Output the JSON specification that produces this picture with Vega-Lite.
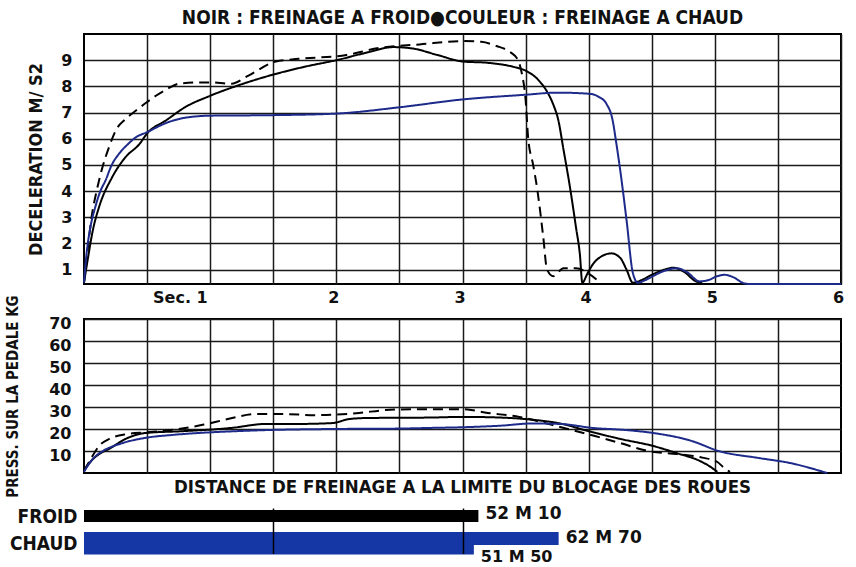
{
  "$schema": "https://vega.github.io/schema/vega-lite/v6.json",
  "background": "white",
  "padding": {"left": 4, "top": 8, "right": 5, "bottom": 0},
  "bounds": "flush",
  "spacing": 35,
  "config": {
    "view": {"stroke": "#000", "strokeWidth": 2},
    "axis": {
      "domain": false, "ticks": false,
      "gridColor": "#1a1a1a", "gridWidth": 1.5, "gridOpacity": 1,
      "labelFont": "DejaVu Sans", "labelFontWeight": "bold", "labelFontSize": 16, "labelColor": "#111",
      "titleFont": "DejaVu Sans Condensed", "titleFontWeight": "bold", "titleColor": "#111"
    },
    "title": {"font": "DejaVu Sans Condensed", "fontWeight": "bold", "fontSize": 19, "color": "#111", "anchor": "middle"}
  },
  "datasets": {
    "decel": [
      {"essai": "froid", "t": 0, "decel": 0.5}, {"essai": "froid", "t": 0.03, "decel": 1.4}, {"essai": "froid", "t": 0.07, "decel": 2.5}, {"essai": "froid", "t": 0.12, "decel": 3.4}, {"essai": "froid", "t": 0.22, "decel": 4.5}, {"essai": "froid", "t": 0.33, "decel": 5.3}, {"essai": "froid", "t": 0.44, "decel": 5.8}, {"essai": "froid", "t": 0.5, "decel": 6.2}, {"essai": "froid", "t": 0.65, "decel": 6.7}, {"essai": "froid", "t": 0.8, "decel": 7.2}, {"essai": "froid", "t": 1.0, "decel": 7.64}, {"essai": "froid", "t": 1.2, "decel": 8.0}, {"essai": "froid", "t": 1.5, "decel": 8.45}, {"essai": "froid", "t": 1.75, "decel": 8.75}, {"essai": "froid", "t": 2.0, "decel": 9.0}, {"essai": "froid", "t": 2.25, "decel": 9.3}, {"essai": "froid", "t": 2.45, "decel": 9.5}, {"essai": "froid", "t": 2.6, "decel": 9.45}, {"essai": "froid", "t": 2.8, "decel": 9.2}, {"essai": "froid", "t": 3.0, "decel": 8.95}, {"essai": "froid", "t": 3.2, "decel": 8.9}, {"essai": "froid", "t": 3.4, "decel": 8.75}, {"essai": "froid", "t": 3.5, "decel": 8.6}, {"essai": "froid", "t": 3.6, "decel": 8.25}, {"essai": "froid", "t": 3.67, "decel": 7.8}, {"essai": "froid", "t": 3.72, "decel": 7.3}, {"essai": "froid", "t": 3.76, "decel": 6.7}, {"essai": "froid", "t": 3.8, "decel": 5.6}, {"essai": "froid", "t": 3.85, "decel": 4.2}, {"essai": "froid", "t": 3.9, "decel": 2.6}, {"essai": "froid", "t": 3.93, "decel": 1.6}, {"essai": "froid", "t": 3.95, "decel": 0.5}, {"essai": "froid", "t": 3.99, "decel": 0.85}, {"essai": "froid", "t": 4.04, "decel": 1.25}, {"essai": "froid", "t": 4.1, "decel": 1.5}, {"essai": "froid", "t": 4.18, "decel": 1.62}, {"essai": "froid", "t": 4.25, "decel": 1.45}, {"essai": "froid", "t": 4.3, "decel": 1.0}, {"essai": "froid", "t": 4.35, "decel": 0.5}, {"essai": "froid", "t": 4.42, "decel": 0.6}, {"essai": "froid", "t": 4.5, "decel": 0.8}, {"essai": "froid", "t": 4.6, "decel": 1.0}, {"essai": "froid", "t": 4.67, "decel": 1.07}, {"essai": "froid", "t": 4.76, "decel": 0.9}, {"essai": "froid", "t": 4.85, "decel": 0.55}, {"essai": "froid", "t": 4.9, "decel": 0.5},
      {"essai": "froid_b", "t": 0, "decel": 0.5}, {"essai": "froid_b", "t": 0.03, "decel": 1.8}, {"essai": "froid_b", "t": 0.06, "decel": 3.0}, {"essai": "froid_b", "t": 0.1, "decel": 4.0}, {"essai": "froid_b", "t": 0.14, "decel": 4.8}, {"essai": "froid_b", "t": 0.2, "decel": 5.7}, {"essai": "froid_b", "t": 0.25, "decel": 6.3}, {"essai": "froid_b", "t": 0.33, "decel": 6.75}, {"essai": "froid_b", "t": 0.41, "decel": 7.07}, {"essai": "froid_b", "t": 0.5, "decel": 7.4}, {"essai": "froid_b", "t": 0.57, "decel": 7.64}, {"essai": "froid_b", "t": 0.66, "decel": 7.9}, {"essai": "froid_b", "t": 0.75, "decel": 8.1}, {"essai": "froid_b", "t": 0.9, "decel": 8.15}, {"essai": "froid_b", "t": 1.0, "decel": 8.15}, {"essai": "froid_b", "t": 1.17, "decel": 8.1}, {"essai": "froid_b", "t": 1.3, "decel": 8.4}, {"essai": "froid_b", "t": 1.52, "decel": 8.95}, {"essai": "froid_b", "t": 1.7, "decel": 9.05}, {"essai": "froid_b", "t": 2.08, "decel": 9.2}, {"essai": "froid_b", "t": 2.34, "decel": 9.47}, {"essai": "froid_b", "t": 2.66, "decel": 9.6}, {"essai": "froid_b", "t": 3.0, "decel": 9.73}, {"essai": "froid_b", "t": 3.15, "decel": 9.7}, {"essai": "froid_b", "t": 3.27, "decel": 9.54}, {"essai": "froid_b", "t": 3.38, "decel": 9.3}, {"essai": "froid_b", "t": 3.44, "decel": 9.0}, {"essai": "froid_b", "t": 3.47, "decel": 8.5}, {"essai": "froid_b", "t": 3.5, "decel": 7.5}, {"essai": "froid_b", "t": 3.52, "decel": 6.05}, {"essai": "froid_b", "t": 3.56, "decel": 5.0}, {"essai": "froid_b", "t": 3.59, "decel": 4.15}, {"essai": "froid_b", "t": 3.64, "decel": 2.25}, {"essai": "froid_b", "t": 3.67, "decel": 1.0}, {"essai": "froid_b", "t": 3.72, "decel": 0.75}, {"essai": "froid_b", "t": 3.8, "decel": 1.05}, {"essai": "froid_b", "t": 3.9, "decel": 1.05}, {"essai": "froid_b", "t": 4.0, "decel": 0.85}, {"essai": "froid_b", "t": 4.08, "decel": 0.55},
      {"essai": "chaud", "t": 0, "decel": 0.5}, {"essai": "chaud", "t": 0.02, "decel": 1.6}, {"essai": "chaud", "t": 0.05, "decel": 2.6}, {"essai": "chaud", "t": 0.09, "decel": 3.4}, {"essai": "chaud", "t": 0.13, "decel": 4.0}, {"essai": "chaud", "t": 0.17, "decel": 4.4}, {"essai": "chaud", "t": 0.22, "decel": 5.0}, {"essai": "chaud", "t": 0.28, "decel": 5.44}, {"essai": "chaud", "t": 0.35, "decel": 5.8}, {"essai": "chaud", "t": 0.41, "decel": 6.05}, {"essai": "chaud", "t": 0.5, "decel": 6.25}, {"essai": "chaud", "t": 0.65, "decel": 6.6}, {"essai": "chaud", "t": 0.8, "decel": 6.8}, {"essai": "chaud", "t": 1.0, "decel": 6.88}, {"essai": "chaud", "t": 1.5, "decel": 6.9}, {"essai": "chaud", "t": 2.0, "decel": 6.96}, {"essai": "chaud", "t": 2.5, "decel": 7.2}, {"essai": "chaud", "t": 3.0, "decel": 7.5}, {"essai": "chaud", "t": 3.5, "decel": 7.68}, {"essai": "chaud", "t": 3.75, "decel": 7.76}, {"essai": "chaud", "t": 4.0, "decel": 7.72}, {"essai": "chaud", "t": 4.08, "decel": 7.6}, {"essai": "chaud", "t": 4.14, "decel": 7.34}, {"essai": "chaud", "t": 4.19, "decel": 6.7}, {"essai": "chaud", "t": 4.22, "decel": 5.8}, {"essai": "chaud", "t": 4.25, "decel": 4.8}, {"essai": "chaud", "t": 4.3, "decel": 2.9}, {"essai": "chaud", "t": 4.35, "decel": 0.88}, {"essai": "chaud", "t": 4.39, "decel": 0.5}, {"essai": "chaud", "t": 4.45, "decel": 0.6}, {"essai": "chaud", "t": 4.55, "decel": 0.85}, {"essai": "chaud", "t": 4.63, "decel": 1.0}, {"essai": "chaud", "t": 4.7, "decel": 1.05}, {"essai": "chaud", "t": 4.78, "decel": 0.9}, {"essai": "chaud", "t": 4.88, "decel": 0.55}, {"essai": "chaud", "t": 4.95, "decel": 0.6}, {"essai": "chaud", "t": 5.02, "decel": 0.75}, {"essai": "chaud", "t": 5.08, "decel": 0.8}, {"essai": "chaud", "t": 5.15, "decel": 0.7}, {"essai": "chaud", "t": 5.22, "decel": 0.5}, {"essai": "chaud", "t": 5.27, "decel": 0.45}, {"essai": "chaud", "t": 6.0, "decel": 0.45}
    ],
    "pedale": [
      {"essai": "froid", "t": 0, "kg": 1}, {"essai": "froid", "t": 0.05, "kg": 5}, {"essai": "froid", "t": 0.12, "kg": 8.6}, {"essai": "froid", "t": 0.2, "kg": 11}, {"essai": "froid", "t": 0.33, "kg": 15.5}, {"essai": "froid", "t": 0.49, "kg": 18.2}, {"essai": "froid", "t": 0.78, "kg": 19}, {"essai": "froid", "t": 1.17, "kg": 20.5}, {"essai": "froid", "t": 1.44, "kg": 22.3}, {"essai": "froid", "t": 1.7, "kg": 22.3}, {"essai": "froid", "t": 1.97, "kg": 22.7}, {"essai": "froid", "t": 2.1, "kg": 24.5}, {"essai": "froid", "t": 2.24, "kg": 25}, {"essai": "froid", "t": 2.74, "kg": 25.2}, {"essai": "froid", "t": 3.0, "kg": 25.5}, {"essai": "froid", "t": 3.25, "kg": 25.3}, {"essai": "froid", "t": 3.5, "kg": 24.5}, {"essai": "froid", "t": 3.79, "kg": 22.3}, {"essai": "froid", "t": 4.0, "kg": 19}, {"essai": "froid", "t": 4.25, "kg": 15.5}, {"essai": "froid", "t": 4.51, "kg": 12.3}, {"essai": "froid", "t": 4.7, "kg": 9}, {"essai": "froid", "t": 4.88, "kg": 5.5}, {"essai": "froid", "t": 4.96, "kg": 3}, {"essai": "froid", "t": 5.02, "kg": 0.5},
      {"essai": "froid_b", "t": 0, "kg": 1}, {"essai": "froid_b", "t": 0.06, "kg": 7}, {"essai": "froid_b", "t": 0.12, "kg": 12.3}, {"essai": "froid_b", "t": 0.2, "kg": 15.5}, {"essai": "froid_b", "t": 0.34, "kg": 17.7}, {"essai": "froid_b", "t": 0.5, "kg": 18.5}, {"essai": "froid_b", "t": 0.75, "kg": 20}, {"essai": "froid_b", "t": 0.95, "kg": 22}, {"essai": "froid_b", "t": 1.14, "kg": 24.5}, {"essai": "froid_b", "t": 1.36, "kg": 26.8}, {"essai": "froid_b", "t": 1.56, "kg": 26.8}, {"essai": "froid_b", "t": 1.84, "kg": 26.3}, {"essai": "froid_b", "t": 2.18, "kg": 27.3}, {"essai": "froid_b", "t": 2.39, "kg": 28.6}, {"essai": "froid_b", "t": 2.62, "kg": 29}, {"essai": "froid_b", "t": 3.0, "kg": 29}, {"essai": "froid_b", "t": 3.2, "kg": 27.3}, {"essai": "froid_b", "t": 3.45, "kg": 25.5}, {"essai": "froid_b", "t": 3.7, "kg": 22}, {"essai": "froid_b", "t": 4.05, "kg": 16.8}, {"essai": "froid_b", "t": 4.25, "kg": 13.6}, {"essai": "froid_b", "t": 4.47, "kg": 10}, {"essai": "froid_b", "t": 4.7, "kg": 8.6}, {"essai": "froid_b", "t": 4.9, "kg": 7}, {"essai": "froid_b", "t": 5.02, "kg": 5}, {"essai": "froid_b", "t": 5.07, "kg": 2.5}, {"essai": "froid_b", "t": 5.12, "kg": 0.5},
      {"essai": "chaud", "t": 0, "kg": 0.5}, {"essai": "chaud", "t": 0.05, "kg": 5}, {"essai": "chaud", "t": 0.1, "kg": 8}, {"essai": "chaud", "t": 0.15, "kg": 10}, {"essai": "chaud", "t": 0.3, "kg": 13.5}, {"essai": "chaud", "t": 0.49, "kg": 16}, {"essai": "chaud", "t": 0.7, "kg": 17.3}, {"essai": "chaud", "t": 0.91, "kg": 18.2}, {"essai": "chaud", "t": 1.2, "kg": 19}, {"essai": "chaud", "t": 1.44, "kg": 19.5}, {"essai": "chaud", "t": 1.97, "kg": 20}, {"essai": "chaud", "t": 2.5, "kg": 20.2}, {"essai": "chaud", "t": 2.75, "kg": 20.5}, {"essai": "chaud", "t": 3.0, "kg": 20.8}, {"essai": "chaud", "t": 3.3, "kg": 21.5}, {"essai": "chaud", "t": 3.55, "kg": 22.5}, {"essai": "chaud", "t": 3.77, "kg": 22.3}, {"essai": "chaud", "t": 4.03, "kg": 20.5}, {"essai": "chaud", "t": 4.3, "kg": 19.5}, {"essai": "chaud", "t": 4.51, "kg": 18.2}, {"essai": "chaud", "t": 4.82, "kg": 14.5}, {"essai": "chaud", "t": 5.03, "kg": 10}, {"essai": "chaud", "t": 5.35, "kg": 6.8}, {"essai": "chaud", "t": 5.6, "kg": 4.5}, {"essai": "chaud", "t": 5.89, "kg": 0}
    ],
    "distance": [
      {"freinage": "FROID", "mesure": "unique", "dist": 52.1, "texte": "52 M 10"},
      {"freinage": "CHAUD", "mesure": "max", "dist": 62.7, "texte": "62 M 70"},
      {"freinage": "CHAUD", "mesure": "min", "dist": 51.5, "texte": "51 M 50"}
    ]
  },
  "vconcat": [
    {
      "width": 757, "height": 250,
      "title": {"text": "NOIR : FREINAGE A FROID●COULEUR : FREINAGE A CHAUD", "offset": 6},
      "data": {"name": "decel"},
      "mark": {"type": "line", "strokeWidth": 2, "interpolate": "monotone"},
      "encoding": {
        "x": {"field": "t", "type": "quantitative", "scale": {"domain": [0, 6], "nice": false},
          "axis": {"title": null, "values": [0.5, 1, 1.5, 2, 2.5, 3, 3.5, 4, 4.5, 5, 5.5, 6], "labelExpr": "datum.value == 1 ? 'Sec. 1' : (datum.value % 1 == 0 ? format(datum.value, 'd') : '')", "labelAlign": {"condition": {"test": "datum.value == 1", "value": "right"}, "value": "center"}, "labelOffset": -3, "labelPadding": 5}},
        "y": {"field": "decel", "type": "quantitative", "scale": {"domain": [0.45, 10], "nice": false, "zero": false},
          "axis": {"title": "DECELERATION M/ S2", "titleFontSize": 18, "titlePadding": 15, "values": [1, 2, 3, 4, 5, 6, 7, 8, 9], "labelPadding": 12}},
        "color": {"field": "essai", "type": "nominal", "scale": {"domain": ["froid", "froid_b", "chaud"], "range": ["#000000", "#000000", "#1e2a8a"]}, "legend": null},
        "strokeDash": {"field": "essai", "type": "nominal", "scale": {"domain": ["froid", "froid_b", "chaud"], "range": [[1, 0], [10, 6], [1, 0]]}, "legend": null}
      }
    },
    {
      "width": 757, "height": 154,
      "encoding": {
        "x": {"field": "t", "type": "quantitative", "scale": {"domain": [0, 6], "nice": false},
          "axis": {"title": null, "labels": false, "values": [0.5, 1, 1.5, 2, 2.5, 3, 3.5, 4, 4.5, 5, 5.5]}},
        "y": {"field": "kg", "type": "quantitative", "scale": {"domain": [0, 70], "nice": false},
          "axis": {"title": "PRESS. SUR LA PEDALE KG", "titleFontSize": 15, "titlePadding": 28, "values": [10, 20, 30, 40, 50, 60, 70], "labelPadding": 13, "labelOffset": 4}}
      },
      "layer": [
        {
          "data": {"name": "pedale"},
          "mark": {"type": "line", "strokeWidth": 2, "interpolate": "monotone"},
          "encoding": {
            "color": {"field": "essai", "type": "nominal", "scale": {"domain": ["froid", "froid_b", "chaud"], "range": ["#000000", "#000000", "#1e2a8a"]}, "legend": null},
            "strokeDash": {"field": "essai", "type": "nominal", "scale": {"domain": ["froid", "froid_b", "chaud"], "range": [[1, 0], [10, 6], [1, 0]]}, "legend": null}
          }
        },
        {
          "data": {"values": [{}]},
          "mark": {"type": "rect", "fill": "white"},
          "encoding": {"x": {"datum": 4.15}, "x2": {"datum": 5.98}, "y": {"datum": 48}, "y2": {"datum": 66}}
        },
        {
          "data": {"values": [{}]},
          "mark": {"type": "text", "font": "DejaVu Sans", "fontWeight": "bold", "fontSize": 17, "color": "#111"},
          "encoding": {"x": {"datum": 5.06}, "y": {"datum": 56.8}, "text": {"value": "VITESSE 100 KM/H"}}
        }
      ]
    },
    {
      "width": 757, "height": 45.5,
      "view": {"stroke": null},
      "title": {"text": "DISTANCE DE FREINAGE A LA LIMITE DU BLOCAGE DES ROUES", "offset": 9, "fontSize": 18.5},
      "data": {"name": "distance"},
      "encoding": {
        "y": {"field": "freinage", "type": "nominal", "scale": {"domain": ["FROID", "CHAUD"], "paddingInner": 0.345, "paddingOuter": 0},
          "axis": {"title": null, "grid": false, "labelFont": "DejaVu Sans Condensed", "labelFontSize": 19, "labelPadding": 7}},
        "x": {"field": "dist", "type": "quantitative", "scale": {"domain": [0, 100], "nice": false},
          "axis": {"title": null, "labels": false, "values": [25, 50], "grid": true, "gridColor": "#000", "zindex": 1}}
      },
      "layer": [
        {"transform": [{"filter": "datum.mesure == 'unique'"}], "mark": {"type": "bar", "height": 12, "yOffset": -1, "color": "#000000"}},
        {"transform": [{"filter": "datum.mesure == 'max'"}], "mark": {"type": "bar", "height": 13, "yOffset": -6, "color": "#1537a6"}},
        {"transform": [{"filter": "datum.mesure == 'min'"}], "mark": {"type": "bar", "height": 22, "yOffset": -1, "color": "#1537a6"}},
        {"transform": [{"filter": "datum.mesure == 'unique'"}], "mark": {"type": "text", "align": "left", "dx": 7, "dy": -3, "font": "DejaVu Sans", "fontWeight": "bold", "fontSize": 17, "color": "#111"}, "encoding": {"text": {"field": "texte"}}},
        {"transform": [{"filter": "datum.mesure == 'max'"}], "mark": {"type": "text", "align": "left", "dx": 7, "dy": -6.5, "font": "DejaVu Sans", "fontWeight": "bold", "fontSize": 17, "color": "#111"}, "encoding": {"text": {"field": "texte"}}},
        {"transform": [{"filter": "datum.mesure == 'min'"}], "mark": {"type": "text", "align": "left", "dx": 7, "dy": 13, "font": "DejaVu Sans", "fontWeight": "bold", "fontSize": 16, "color": "#111"}, "encoding": {"text": {"field": "texte"}}}
      ]
    }
  ]
}
